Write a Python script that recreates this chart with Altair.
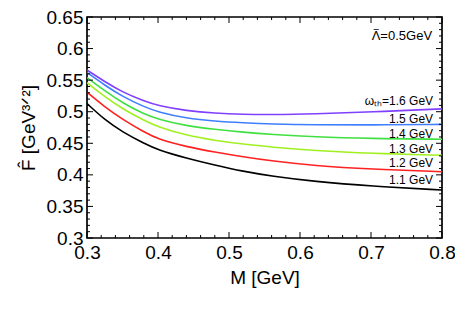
import altair as alt
import pandas as pd

M = [0.30, 0.325, 0.35, 0.38, 0.40, 0.44, 0.48, 0.52, 0.56, 0.62, 0.70, 0.80]
series_names = ["1.6", "1.5", "1.4", "1.3", "1.2", "1.1"]
F_16 = [0.566, 0.5475, 0.531, 0.517, 0.5095, 0.5015, 0.4975, 0.4958, 0.4953, 0.4965, 0.4995, 0.5045]
F_15 = [0.562, 0.542, 0.524, 0.508, 0.4995, 0.4895, 0.4850, 0.4825, 0.4805, 0.479, 0.479, 0.480]
F_14 = [0.554, 0.533, 0.514, 0.4965, 0.488, 0.4775, 0.4720, 0.4675, 0.464, 0.4600, 0.4575, 0.4564]
F_13 = [0.546, 0.524, 0.5045, 0.4865, 0.476, 0.4625, 0.4545, 0.4485, 0.4440, 0.4385, 0.4340, 0.431]
F_12 = [0.531, 0.5075, 0.488, 0.468, 0.4565, 0.4445, 0.436, 0.4285, 0.422, 0.4145, 0.409, 0.405]
F_11 = [0.513, 0.487, 0.468, 0.450, 0.4395, 0.4265, 0.4155, 0.4055, 0.398, 0.3895, 0.382, 0.376]
colors = ["#8040ff", "#3f7fff", "#40e040", "#a0f020", "#ff2020", "#000000"]

label_texts = ["ωₜₕ=1.6 GeV", "1.5 GeV", "1.4 GeV", "1.3 GeV", "1.2 GeV", "1.1 GeV"]
label_y = [0.5166, 0.4888, 0.4652, 0.4417, 0.4181, 0.3925]
label_x = 0.7875

lam_text = "=0.5GeV"
lam_x = 0.786
lam_y = 0.620

x_major = [0.3, 0.4, 0.5, 0.6, 0.7, 0.8]
x_minor = [0.32, 0.34, 0.36, 0.38, 0.42, 0.44, 0.46, 0.48, 0.52, 0.54, 0.56, 0.58,
           0.62, 0.64, 0.66, 0.68, 0.72, 0.74, 0.76, 0.78]
y_major = [0.3, 0.35, 0.4, 0.45, 0.5, 0.55, 0.6, 0.65]
y_minor = [0.31, 0.32, 0.33, 0.34, 0.36, 0.37, 0.38, 0.39, 0.41, 0.42, 0.43, 0.44,
           0.46, 0.47, 0.48, 0.49, 0.51, 0.52, 0.53, 0.54, 0.56, 0.57, 0.58, 0.59,
           0.61, 0.62, 0.63, 0.64]

W, H = 355, 221
FONT = "Liberation Sans"

rows = []
for name, vals in zip(series_names, [F_16, F_15, F_14, F_13, F_12, F_11]):
    for m, f in zip(M, vals):
        rows.append({"M": m, "F": f, "s": name})
df = pd.DataFrame(rows)

xs = alt.Scale(domain=[0.3, 0.8], nice=False, zero=False)
ys = alt.Scale(domain=[0.3, 0.65], nice=False, zero=False)

ax_x = alt.Axis(values=x_major, format="~g", ticks=False, domain=False, grid=False,
                labelFlush=False, labelOverlap=False,
                labelFontSize=19, labelFont=FONT, labelColor="black", labelPadding=5,
                titleFontSize=19, titleFont=FONT, titleFontWeight="normal",
                titleColor="black", titlePadding=6)
ax_y = alt.Axis(values=y_major, format="~g", ticks=False, domain=False, grid=False,
                labelFlush=False, labelOverlap=False,
                labelFontSize=19, labelFont=FONT, labelColor="black", labelPadding=4,
                titleFontSize=19, titleFont=FONT, titleFontWeight="normal",
                titleColor="black", titlePadding=8)
XT = "M [GeV]"
YT = "F̂ [GeV³ᐟ²]"


def X(f):
    return alt.X(f, scale=xs, axis=ax_x, title=XT)


def Y(f):
    return alt.Y(f, scale=ys, axis=ax_y, title=YT)


lines = alt.Chart(df).mark_line(strokeWidth=1.6, interpolate="basis", clip=True).encode(
    x=X("M:Q"), y=Y("F:Q"),
    color=alt.Color("s:N", scale=alt.Scale(domain=series_names, range=colors), legend=None),
)

lab_df = pd.DataFrame({"t": label_texts, "y": label_y, "x": [label_x] * len(label_y)})
labels = alt.Chart(lab_df).mark_text(align="right", baseline="middle", fontSize=12,
                                     font=FONT, color="black").encode(
    x=X("x:Q"), y=Y("y:Q"), text="t:N")

lam_df = pd.DataFrame({"t": [lam_text], "x": [lam_x], "y": [lam_y]})
lam1 = alt.Chart(lam_df).mark_text(align="right", baseline="middle", fontSize=13,
                                   font=FONT, color="black").encode(
    x=X("x:Q"), y=Y("y:Q"), text="t:N")
lam2 = alt.Chart(lam_df).mark_text(align="center", baseline="middle", fontSize=13,
                                   font=FONT, color="black", dx=-56).encode(
    x=X("x:Q"), y=Y("y:Q"), text=alt.value("Λ"))
lam3 = alt.Chart(lam_df).mark_text(align="center", baseline="middle", fontSize=13,
                                   font=FONT, color="black", dx=-56, dy=-1).encode(
    x=X("x:Q"), y=Y("y:Q"), text=alt.value("‾"))


def xticks(vals, ln):
    d = pd.DataFrame({"v": vals})
    b = alt.Chart(d).mark_rule(color="black", strokeWidth=1).encode(
        x=X("v:Q"), y=alt.value(H), y2=alt.value(H - ln))
    t = alt.Chart(d).mark_rule(color="black", strokeWidth=1).encode(
        x=X("v:Q"), y=alt.value(0), y2=alt.value(ln))
    return [b, t]


def yticks(vals, ln):
    d = pd.DataFrame({"v": vals})
    l = alt.Chart(d).mark_rule(color="black", strokeWidth=1).encode(
        y=Y("v:Q"), x=alt.value(0), x2=alt.value(ln))
    r = alt.Chart(d).mark_rule(color="black", strokeWidth=1).encode(
        y=Y("v:Q"), x=alt.value(W), x2=alt.value(W - ln))
    return [l, r]


layers = [lines, labels, lam1, lam2, lam3] + xticks(x_major, 6) + xticks(x_minor, 3) + yticks(y_major, 6) + yticks(y_minor, 3)

chart = alt.layer(*layers).properties(
    width=W, height=H,
    background="white",
    autosize=alt.AutoSizeParams(type="none"),
    padding={"left": 79, "top": 9, "right": 13, "bottom": 80},
).configure_view(stroke="black", strokeWidth=1.7)

chart.save("out.html", embed_options={"renderer": "svg", "actions": False})
